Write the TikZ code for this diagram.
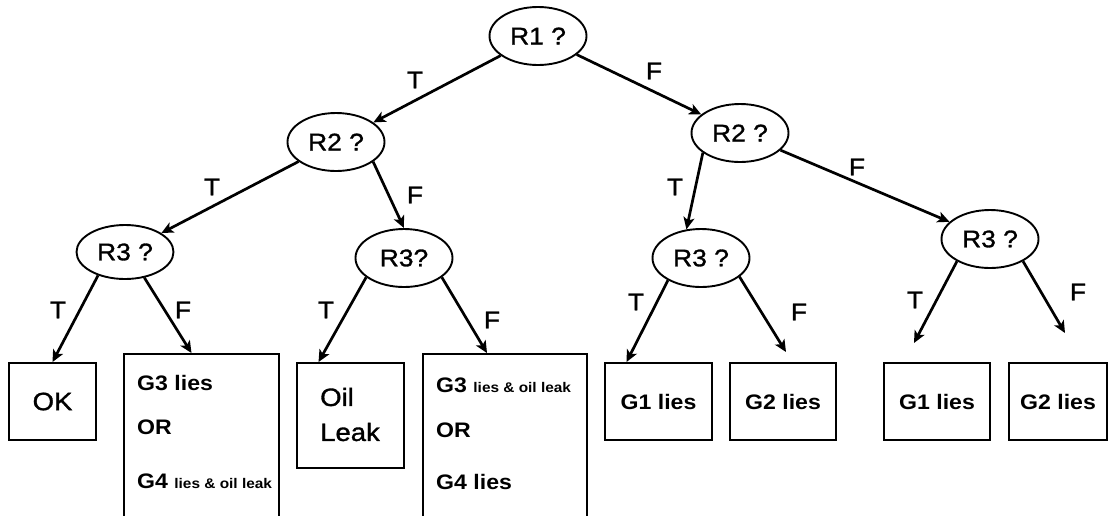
\documentclass[tikz,border=0pt]{standalone}
\usepackage{fontspec}
\setmainfont{Liberation Sans}[FakeStretch=1.1]
\newfontfamily\medfont{Liberation Sans}[FakeStretch=1.1, FakeBold=1.3]
\usetikzlibrary{arrows.meta,shapes.geometric}
\newcommand{\smalltxt}{\bfseries\fontsize{14}{17}\selectfont}
\begin{document}
\begin{tikzpicture}[x=1pt,y=-1pt,
  q/.style={draw, ellipse, line width=1.9pt, inner sep=0pt, minimum width=97pt, minimum height=58pt, font=\medfont\fontsize{24}{28}\selectfont},
  box/.style={draw, rectangle, line width=1.9pt, inner sep=0pt},
  arr/.style={line width=2.7pt, -{Stealth[length=12pt,width=11pt,inset=3pt]}},
  lbl/.style={inner sep=0pt, font=\medfont\fontsize{24}{28}\selectfont},
  bt/.style={anchor=west, inner sep=0pt, font=\bfseries\fontsize{21}{24}\selectfont},
  rt/.style={anchor=west, inner sep=0pt, font=\medfont\fontsize{25}{28}\selectfont}
]
\clip (0,0) rectangle (1109,515);
\fill[white] (0,0) rectangle (1109,515);

% question ellipses
\node[q] (R1) at (538,36) {R1 ?};
\node[q] (R2L) at (336,142) {R2 ?};
\node[q] (R2R) at (740,133) {R2 ?};
\node[q, minimum height=54pt] (R3L) at (125,252) {R3 ?};
\node[q] (R3M) at (404,258) {R3?};
\node[q] (R3RM) at (701,258) {R3 ?};
\node[q] (R3F) at (990,239) {R3 ?};

% outcome boxes
\node[box, minimum width=87pt, minimum height=77pt, font=\medfont\fontsize{25}{28}\selectfont] (OK) at (52.5,401.5) {OK};
\node[box, minimum width=155pt, minimum height=190pt] (B1) at (201.5,449) {};
\node[box, minimum width=107pt, minimum height=105pt] (Oil) at (350.5,415.5) {};
\node[box, minimum width=164pt, minimum height=190pt] (B2) at (505,449) {};
\node[box, minimum width=107pt, minimum height=77pt, font=\bfseries\fontsize{21}{24}\selectfont] (G1) at (658.5,401.5) {G1 lies};
\node[box, minimum width=106pt, minimum height=77pt, font=\bfseries\fontsize{21}{24}\selectfont] (G2) at (783,401.5) {G2 lies};
\node[box, minimum width=106pt, minimum height=77pt, font=\bfseries\fontsize{21}{24}\selectfont] (FG1) at (937,401.5) {G1 lies};
\node[box, minimum width=98pt, minimum height=77pt, font=\bfseries\fontsize{21}{24}\selectfont] (FG2) at (1058,401.5) {G2 lies};

% box texts
\node[bt] (b1a) at (137,383) {G3 lies};
\node[bt] (b1b) at (137,427) {OR};
\node[bt] (b1c) at (137,481) {G4 {\smalltxt lies \& oil leak}};
\node[rt] (oa) at (320,397) {Oil};
\node[rt] (ob) at (320,432) {Leak};
\node[bt] (b2a) at (436,385) {G3 {\smalltxt lies \& oil leak}};
\node[bt] (b2b) at (436,430) {OR};
\node[bt] (b2c) at (436,482) {G4 lies};

% free arrow ends
\coordinate (G2tip) at (786,352);
\coordinate (FG1tip) at (914,343);
\coordinate (FG2tip) at (1065,333);

% connectors
\draw[arr] (R1) -- (R2L);
\draw[arr] (R1) -- (R2R);
\draw[arr] (R2L) -- (R3L);
\draw[arr] (R2L.332) -- (R3M.north);
\draw[arr] (R2R.208) -- (R3RM.117);
\draw[arr] (R2R) -- (R3F);
\draw[arr] (R3L.221) -- (OK.north);
\draw[arr] (R3L.307) -- ([xshift=-10pt]B1.north);
\draw[arr] (R3M.207) -- ([xshift=-32pt]Oil.north);
\draw[arr] (R3M.333) -- ([xshift=-18pt]B2.north);
\draw[arr] (R3RM.214) -- ([xshift=-32pt]G1.north);
\draw[arr] (R3RM.334) -- (G2tip);
\draw[arr] (R3F.214) -- (FG1tip);
\draw[arr] (R3F.326) -- (FG2tip);

% T/F labels
\node[lbl] (l1) at (415,80) {T};
\node[lbl] (l2) at (654,71) {F};
\node[lbl] (l3) at (212,187) {T};
\node[lbl] (l4) at (415,195) {F};
\node[lbl] (l5) at (675,187) {T};
\node[lbl] (l6) at (857,167) {F};
\node[lbl] (l7) at (58,310) {T};
\node[lbl] (l8) at (183,310) {F};
\node[lbl] (l9) at (326,310) {T};
\node[lbl] (l10) at (492,320) {F};
\node[lbl] (l11) at (636,302) {T};
\node[lbl] (l12) at (799,312) {F};
\node[lbl] (l13) at (915,300) {T};
\node[lbl] (l14) at (1078,292) {F};
\end{tikzpicture}
\end{document}
